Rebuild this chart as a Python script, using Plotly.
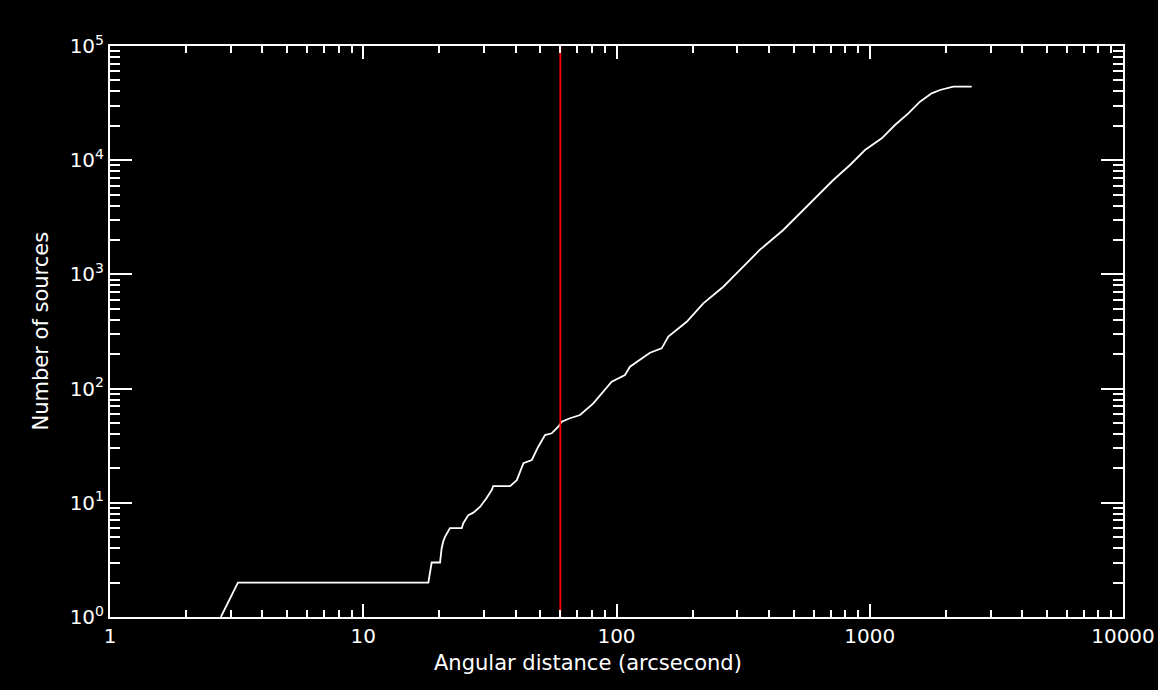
import plotly.graph_objects as go

# Cumulative number of sources vs angular distance
distance_arcsec = [2.74, 3.20, 18.07, 18.63, 20.1, 20.4, 20.7, 21.0, 22.0, 24.5, 24.8, 26.0,
                   27.2, 28.9, 30.7, 32.2, 32.6, 38.0, 40.4, 42.9, 46.3, 49.1, 52.2, 55.5,
                   58.9, 60.8, 65.5, 71.8, 81.0, 86.1, 95.7, 108, 113, 135.6, 150.8, 160.2,
                   189.3, 220.2, 264.1, 289.2, 368.7, 455.6, 617.3, 718, 835.6, 957.9,
                   1115, 1258, 1420, 1579, 1756, 1894, 2138, 2527]
n_sources = [1, 2, 2, 3, 3, 4, 4.6, 5, 6, 6, 6.6, 7.8,
             8.2, 9.2, 11, 13, 14, 14, 15.8, 22.2, 23.7, 31.0, 39.2, 40.6,
             46.4, 51.3, 55.0, 58.7, 74.3, 87.9, 115, 131.5, 155.5, 206, 225, 285,
             385, 558, 780, 955, 1646, 2448, 4792, 6708, 9078, 12285,
             15555, 20330, 25740, 32530, 38540, 41190, 44020, 44020]

cut_distance = 60  # red vertical marker (arcsec)

x_tickvals = [1, 10, 100, 1000, 10000]
x_ticktext = ["1", "10", "100", "1000", "10000"]
y_tickvals = [1, 10, 100, 1000, 10000, 100000]
y_ticktext = ["10<sup>0</sup>", "10<sup>1</sup>", "10<sup>2</sup>",
              "10<sup>3</sup>", "10<sup>4</sup>", "10<sup>5</sup>"]
x_title = "Angular distance (arcsecond)"
y_title = "Number of sources"

x_minor = [k * 10 ** d for d in range(0, 4) for k in range(2, 10)]
y_minor = [k * 10 ** d for d in range(0, 5) for k in range(2, 10)]

FONT = "DejaVu Sans"
fig = go.Figure()
fig.add_trace(go.Scatter(x=distance_arcsec, y=n_sources, mode="lines",
                         line=dict(color="white", width=1.8), showlegend=False))
fig.add_trace(go.Scatter(x=[cut_distance, cut_distance], y=[1, 100000], mode="lines",
                         line=dict(color="#ff0000", width=1.8), showlegend=False))

fig.update_layout(
    width=1158, height=690,
    paper_bgcolor="black", plot_bgcolor="black",
    margin=dict(l=110, r=35, t=46, b=73, autoexpand=False),
    font=dict(family=FONT, color="white", size=20),
)
fig.update_xaxes(
    type="log", range=[0, 4], showgrid=False, zeroline=False, automargin=False,
    showline=True, linecolor="white", linewidth=2, mirror="ticks",
    ticks="inside", ticklen=13, tickwidth=1.5, tickcolor="white",
    tickmode="array", tickvals=x_tickvals, ticktext=x_ticktext,
    tickfont=dict(family=FONT, size=20, color="white"),
    minor=dict(ticks="inside", ticklen=7, tickwidth=1.5, tickcolor="white",
               tickmode="array", tickvals=x_minor, showgrid=False),
)
fig.update_yaxes(
    type="log", range=[0, 5], showgrid=False, zeroline=False, automargin=False,
    showline=True, linecolor="white", linewidth=2, mirror="ticks",
    ticks="inside", ticklen=22, tickwidth=1.5, tickcolor="white",
    tickmode="array", tickvals=y_tickvals, ticktext=y_ticktext,
    tickfont=dict(family=FONT, size=20, color="white"),
    minor=dict(ticks="inside", ticklen=10, tickwidth=1.5, tickcolor="white",
               tickmode="array", tickvals=y_minor, showgrid=False),
)
fig.add_annotation(text=x_title, xref="paper", yref="paper", x=0.472, y=0,
                   yshift=-46, showarrow=False, xanchor="center", yanchor="middle",
                   font=dict(family=FONT, size=21, color="white"))
fig.add_annotation(text=y_title, xref="paper", yref="paper", x=0, y=0.5,
                   xshift=-70, showarrow=False, textangle=-90,
                   xanchor="center", yanchor="middle",
                   font=dict(family=FONT, size=21, color="white"))

fig.write_html(
    "out.html",
    config={"displayModeBar": False},
    post_script="document.body.style.margin='0';document.body.style.background='black';",
)
